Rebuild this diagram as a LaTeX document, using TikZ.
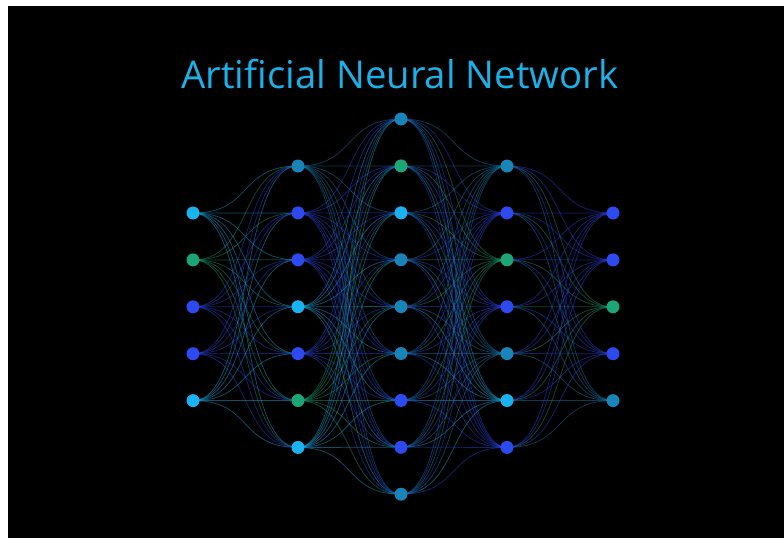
\documentclass[tikz,border=0pt]{standalone}
\usepackage{fontspec}
\setmainfont{Open Sans}
\pgfdeclarelayer{bg}
\pgfsetlayers{bg,main}
\definecolor{cA}{RGB}{26,178,240}
\definecolor{cB}{RGB}{44,74,240}
\definecolor{cG}{RGB}{28,166,118}
\definecolor{cT}{RGB}{24,132,184}
\definecolor{titlec}{RGB}{28,176,232}
\tikzset{
  neuron/.style={circle, inner sep=0pt, minimum size=13pt, fill=#1, draw=none},
  edge/.style={line width=0.75pt, draw opacity=0.45},
}
\begin{document}
\begin{tikzpicture}[x=1pt,y=-1pt]
\useasboundingbox (0,0) rectangle (784,538);
\node[font=\fontsize{38.3}{42}\selectfont, text=titlec, anchor=base] (title) at (400,88) {Artificial Neural Network};
% layers
\foreach \l/\x/\y/\cols in {1/193/213/{cA,cG,cB,cB,cA},2/298/166/{cT,cB,cB,cA,cB,cG,cA},3/401/119/{cT,cG,cA,cT,cT,cT,cB,cB,cT},4/507/166/{cT,cB,cG,cB,cT,cA,cB},5/613/213/{cB,cB,cG,cB,cT}}{
  \foreach \c [count=\i] in \cols {
    \node[neuron=\c] (n\l-\i) at (\x,{\y+46.9*(\i-1)}) {};
    \expandafter\xdef\csname col\l-\i\endcsname{\c}
  }
}
\begin{pgfonlayer}{bg}
\fill[white] (0,0) rectangle (784,538);
\fill[black] (8,6) rectangle (784,538);
\foreach \l/\m/\na/\nb/\dx/\src in {1/2/5/7/60/1,2/3/7/9/58/1,3/4/9/7/60/0,4/5/7/5/60/0}{
  \foreach \i in {1,...,\na}{
    \foreach \j in {1,...,\nb}{
      \ifnum\src=1 \edef\ec{\csname col\l-\i\endcsname}\else\edef\ec{\csname col\m-\j\endcsname}\fi
      \draw[edge, draw=\ec] (n\l-\i.center) .. controls +(\dx,0) and +(-\dx,0) .. (n\m-\j.center);
    }
  }
}
\end{pgfonlayer}
\end{tikzpicture}
\end{document}
